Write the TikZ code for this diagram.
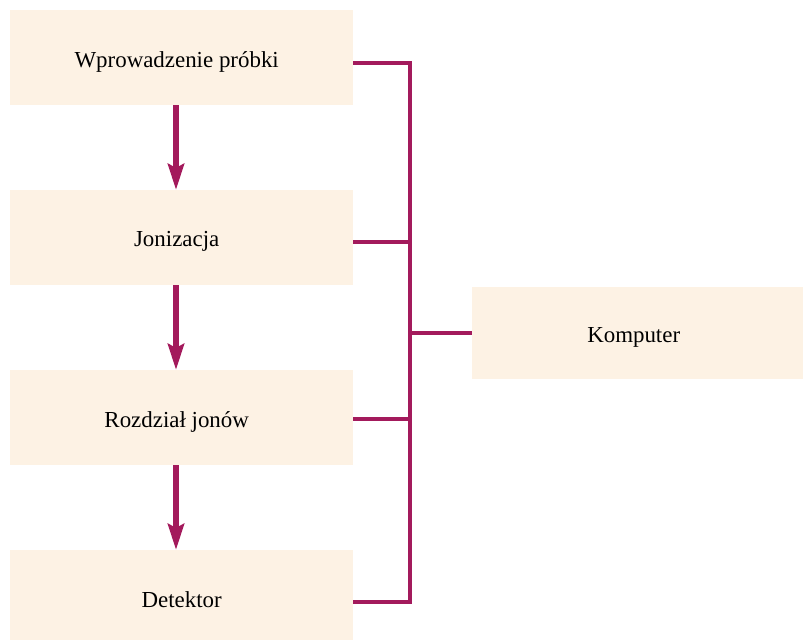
\documentclass[tikz,border=0pt]{standalone}
\usepackage{fontspec}
\setmainfont{Liberation Serif}
\usetikzlibrary{arrows.meta}
\definecolor{boxfill}{RGB}{253,242,228}
\definecolor{linecol}{RGB}{163,26,92}
\newcommand{\lowered}[2][0bp]{\raisebox{-4bp}[\height][\depth]{\hspace*{#1}#2\hspace*{-#1}}}
\begin{document}
\begin{tikzpicture}[x=1bp,y=-1bp,
  stagebox/.style={fill=boxfill,draw=none,inner sep=0pt,anchor=north west,
    font=\fontsize{23}{27}\selectfont,text=black},
  flowarrow/.style={draw=linecol,line width=6bp,
    -{Stealth[width=16bp,length=26bp,inset=4bp,linecol]}},
  busline/.style={draw=linecol,line width=4bp,line join=miter}]
\useasboundingbox (0,0) rectangle (803,640);
\node[stagebox,minimum width=343bp,minimum height=95bp] (b1) at (10,10) {\lowered[-5bp]{Wprowadzenie próbki}};
\node[stagebox,minimum width=343bp,minimum height=95bp] (b2) at (10,190) {\lowered[-5bp]{Jonizacja}};
\node[stagebox,minimum width=343bp,minimum height=95bp] (b3) at (10,370) {\lowered[-5bp]{Rozdział jonów}};
\node[stagebox,minimum width=343bp,minimum height=90bp] (b4) at (10,550) {\lowered{Detektor}};
\node[stagebox,minimum width=331bp,minimum height=92bp] (k) at (472,287) {\lowered[-4bp]{Komputer}};
\coordinate (top) at (410,63);
\coordinate (bot) at (410,602);
\coordinate (j2) at (410,242);
\coordinate (j3) at (410,419);
\coordinate (jk) at (410,333);
\draw[flowarrow] (b1.south -| 176,0) -- (b2.north -| 176,0);
\draw[flowarrow] (b2.south -| 176,0) -- (b3.north -| 176,0);
\draw[flowarrow] (b3.south -| 176,0) -- (b4.north -| 176,0);
\draw[busline] (b1.east |- top) -- (top) -- (bot) -- (b4.east |- bot);
\draw[busline] (b2.east |- j2) -- (j2);
\draw[busline] (b3.east |- j3) -- (j3);
\draw[busline] (jk) -- (k.west |- jk);
\end{tikzpicture}
\end{document}
